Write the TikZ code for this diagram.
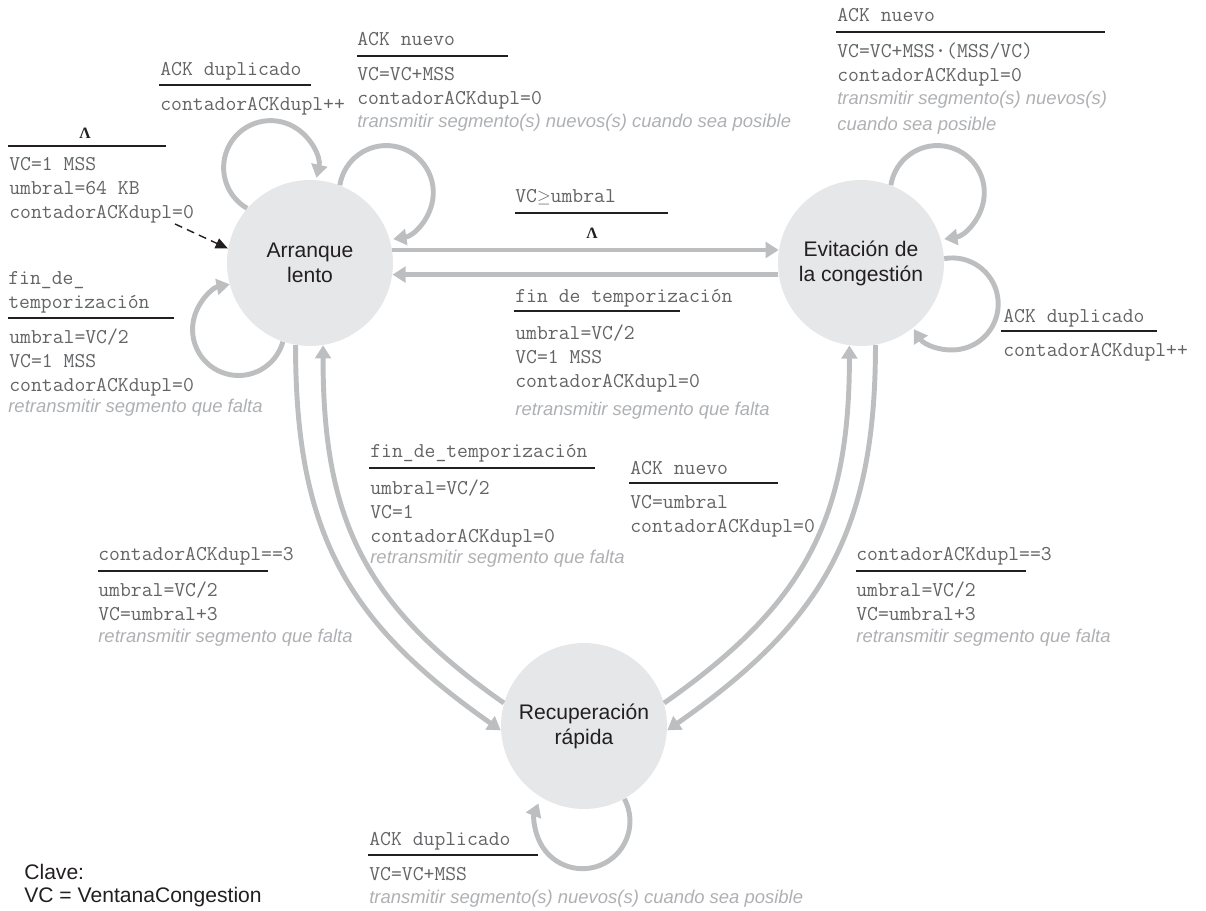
\documentclass[tikz,border=0pt]{standalone}
\usepackage{fontspec}
\setsansfont{Liberation Sans}
\newfontfamily\griego{Liberation Serif}
\usetikzlibrary{arrows.meta}
\definecolor{relleno}{HTML}{E6E7E8}
\definecolor{flecha}{HTML}{BCBEC0}
\definecolor{gristexto}{HTML}{636466}
\definecolor{grisnota}{HTML}{AEB0B3}
\definecolor{negro}{HTML}{231F20}
\tikzset{
  estado/.style={circle, fill=relleno, minimum size=3.32cm, inner sep=0pt, align=center,
    text=negro, font=\sffamily\fontsize{12}{14.2}\selectfont},
  evento/.style={anchor=base west, inner sep=0pt, text=gristexto, font=\ttfamily\fontsize{12}{13.65}\selectfont},
  accion/.style={anchor=north west, inner sep=0pt, align=left, text=gristexto,
    font=\ttfamily\fontsize{12}{13.65}\selectfont},
  nota/.style={anchor=base west, inner sep=0pt, text=grisnota, font=\sffamily\itshape\fontsize{10.5}{13}\selectfont},
  lambda/.style={inner sep=0pt, text=negro, font=\griego\bfseries\fontsize{9}{10}\selectfont},
  raya/.style={draw=negro, line width=1.3pt},
  trans/.style={draw=flecha, line width=2.8pt, -{Triangle[width=9pt,length=7.5pt]}},
  inicio/.style={draw=negro, line width=0.8pt, dash pattern=on 4.5pt off 3pt, -{Triangle[width=6pt,length=7pt]}},
}

\begin{document}
\begin{tikzpicture}[x=0.02cm, y=0.02cm]
	\useasboundingbox (0,0) rectangle (1206,-911);

	% estados
	\node[estado] (A) at (310,-263) {Arranque\\lento};
	\node[estado] (E) at (861,-263) {Evitación de\\la congestión};
	\node[estado] (R) at (584,-726) {Recuperación\\rápida};

	% transiciones
	\draw[trans] (A.9) -- (E.171);
	\draw[trans] (E.188) -- (A.352);
	\draw[trans] (A.260) to[out=-90, in=145, looseness=1.1] (R.183);
	\draw[trans] (R.164) to[out=145, in=-90, looseness=1.1] (A.279);
	\draw[trans] (E.280) to[out=-90, in=35, looseness=1.1] (R.-3);
	\draw[trans] (R.16) to[out=35, in=-90, looseness=1.1] (E.262);

	% bucles
	\draw[trans] (A.139) arc[start angle=240, end angle=-12.5, radius=47];
	\draw[trans] (A.69) arc[start angle=171, end angle=-81.5, radius=47];
	\draw[trans] (A.251) arc[start angle=-15.5, end angle=-259, radius=46];
	\draw[trans] (E.69) arc[start angle=171, end angle=-81.5, radius=47];
	\draw[trans] (E.3) arc[start angle=100, end angle=-146.7, radius=46];
	\draw[trans] (R.-61) arc[start angle=28, end angle=-202, radius=47.5];

	% estado inicial
	\node[lambda] (ini-l) at (85,-133) {Λ};
	\draw[raya] (8,-146) -- (166,-146);
	\node[accion] (ini-a) at (9,-157) {VC=1 MSS\\umbral=64 KB\\contadorACKdupl=0};
	\coordinate (ini) at (175,-224);
	\draw[inicio] (ini) -- (A.170);

	% ACK duplicado en arranque lento
	\node[evento] (dup1) at (160,-76) {ACK duplicado};
	\draw[raya] (159,-85) -- (311,-85);
	\node[accion] (dup1-a) at (160,-97) {contadorACKdupl++};

	% ACK nuevo en arranque lento
	\node[evento] (nue1) at (357,-46) {ACK nuevo};
	\draw[raya] (357,-56) -- (508,-56);
	\node[accion] (nue1-a) at (357,-67) {VC=VC+MSS\\contadorACKdupl=0};
	\node[nota] (nue1-n) at (357,-128) {transmitir segmento(s) nuevos(s) cuando sea posible};

	% VC >= umbral
	\node[evento] (umb) at (515,-203) {VC{\fontsize{10}{12}\selectfont$\geq$}umbral};
	\draw[raya] (515,-213) -- (668,-213);
	\node[lambda] (umb-l) at (592,-233) {Λ};

	% fin de temporizacion hacia arranque lento
	\node[evento] (fin1) at (515,-303) {fin de temporización};
	\draw[raya] (514,-311) -- (680,-311);
	\node[accion] (fin1-a) at (515,-325) {umbral=VC/2\\VC=1 MSS\\contadorACKdupl=0};
	\node[nota] (fin1-n) at (515,-416) {retransmitir segmento que falta};

	% fin de temporizacion en arranque lento
	\node[accion] (fin2) at (8,-271) {fin\_de\_\\temporización};
	\draw[raya] (8,-318) -- (174,-318);
	\node[accion] (fin2-a) at (9,-329) {umbral=VC/2\\VC=1 MSS\\contadorACKdupl=0};
	\node[nota] (fin2-n) at (8,-413) {retransmitir segmento que falta};

	% ACK nuevo en evitacion
	\node[evento] (nue2) at (837,-22) {ACK nuevo};
	\draw[raya] (836,-32) -- (1105,-32);
	\node[accion] (nue2-a) at (837,-43) {VC=VC+MSS{\bfseries·}(MSS/VC)\\contadorACKdupl=0};
	\node[nota] (nue2-n) at (837,-105) {transmitir segmento(s) nuevos(s)};
	\node[nota] (nue2-m) at (837,-131) {cuando sea posible};

	% ACK duplicado en evitacion
	\node[evento] (dup2) at (1003,-323) {ACK duplicado};
	\draw[raya] (1001,-331) -- (1157,-331);
	\node[accion] (dup2-a) at (1003,-343) {contadorACKdupl++};

	% fin de temporizacion desde recuperacion
	\node[evento] (fin3) at (370,-458) {fin\_de\_temporización};
	\draw[raya] (369,-468) -- (595,-468);
	\node[accion] (fin3-a) at (370,-480) {umbral=VC/2\\VC=1\\contadorACKdupl=0};
	\node[nota] (fin3-n) at (370,-563) {retransmitir segmento que falta};

	% ACK nuevo desde recuperacion
	\node[evento] (nue3) at (630,-475) {ACK nuevo};
	\draw[raya] (629,-483) -- (778,-483);
	\node[accion] (nue3-a) at (630,-495) {VC=umbral\\contadorACKdupl=0};

	% tres ACK duplicados
	\node[evento] (tri1) at (98,-561) {contadorACKdupl==3};
	\draw[raya] (98,-571) -- (268,-571);
	\node[accion] (tri1-a) at (98,-582) {umbral=VC/2\\VC=umbral+3};
	\node[nota] (tri1-n) at (98,-642) {retransmitir segmento que falta};

	\node[evento] (tri2) at (856,-561) {contadorACKdupl==3};
	\draw[raya] (856,-571) -- (1026,-571);
	\node[accion] (tri2-a) at (856,-582) {umbral=VC/2\\VC=umbral+3};
	\node[nota] (tri2-n) at (856,-642) {retransmitir segmento que falta};

	% ACK duplicado en recuperacion
	\node[evento] (dup3) at (369,-845) {ACK duplicado};
	\draw[raya] (368,-855) -- (538,-855);
	\node[accion] (dup3-a) at (369,-867) {VC=VC+MSS};
	\node[nota] (dup3-n) at (369,-903) {transmitir segmento(s) nuevos(s) cuando sea posible};

	% clave
	\node[anchor=north west, inner sep=0pt, align=left, text=negro,
		font=\sffamily\fontsize{12}{13.1}\selectfont] (clave) at (24,-864) {Clave:\\VC = VentanaCongestion};
\end{tikzpicture}
\end{document}
